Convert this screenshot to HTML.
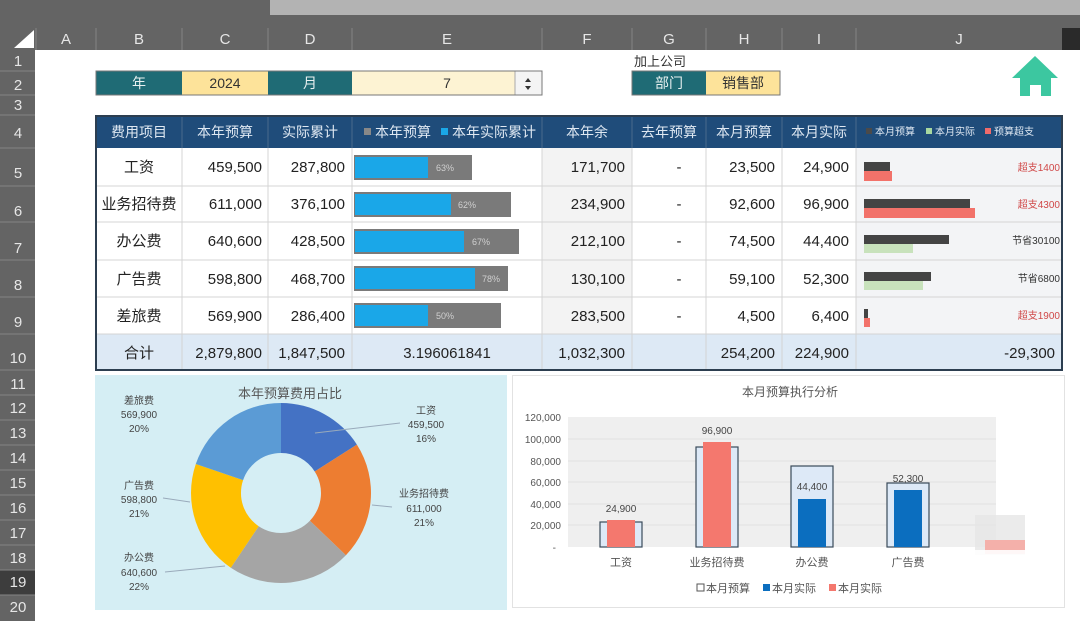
<!DOCTYPE html>
<html><head><meta charset="utf-8"><style>
html,body{margin:0;padding:0;width:1080px;height:621px;overflow:hidden;background:#fff}
svg{display:block;font-family:"Liberation Sans","Noto Sans CJK SC",sans-serif}
</style></head><body>
<svg width="1080" height="621" viewBox="0 0 1080 621" xmlns="http://www.w3.org/2000/svg">
<rect width="1080" height="621" fill="#fff"/>
<!-- top strips -->
<rect x="0" y="0" width="1080" height="50" fill="#646464"/>
<rect x="270" y="0" width="810" height="15" fill="#b3b3b3"/>
<rect x="1062" y="28" width="18" height="22" fill="#2a2a2a"/>
<polygon points="14,48 34,48 34,30" fill="#fff"/>
<g stroke="#858585" stroke-width="1">
<line x1="36" y1="28" x2="36" y2="50"/><line x1="96" y1="28" x2="96" y2="50"/><line x1="182" y1="28" x2="182" y2="50"/>
<line x1="268" y1="28" x2="268" y2="50"/><line x1="352" y1="28" x2="352" y2="50"/><line x1="542" y1="28" x2="542" y2="50"/>
<line x1="632" y1="28" x2="632" y2="50"/><line x1="706" y1="28" x2="706" y2="50"/><line x1="782" y1="28" x2="782" y2="50"/>
<line x1="856" y1="28" x2="856" y2="50"/>
</g>
<g fill="#e6e6e6" font-size="15" text-anchor="middle">
<text x="66" y="44">A</text><text x="139" y="44">B</text><text x="225" y="44">C</text><text x="310" y="44">D</text>
<text x="447" y="44">E</text><text x="587" y="44">F</text><text x="669" y="44">G</text><text x="744" y="44">H</text>
<text x="819" y="44">I</text><text x="959" y="44">J</text>
</g>
<!-- row headers -->
<rect x="0" y="50" width="35" height="571" fill="#646464"/>
<rect x="0" y="570" width="35" height="25" fill="#3d3d3d"/>
<g stroke="#858585">
<line x1="0" y1="71" x2="35" y2="71"/><line x1="0" y1="95" x2="35" y2="95"/><line x1="0" y1="115" x2="35" y2="115"/>
<line x1="0" y1="148" x2="35" y2="148"/><line x1="0" y1="186" x2="35" y2="186"/><line x1="0" y1="222" x2="35" y2="222"/>
<line x1="0" y1="260" x2="35" y2="260"/><line x1="0" y1="297" x2="35" y2="297"/><line x1="0" y1="334" x2="35" y2="334"/>
<line x1="0" y1="370" x2="35" y2="370"/><line x1="0" y1="395" x2="35" y2="395"/><line x1="0" y1="420" x2="35" y2="420"/>
<line x1="0" y1="445" x2="35" y2="445"/><line x1="0" y1="470" x2="35" y2="470"/><line x1="0" y1="495" x2="35" y2="495"/>
<line x1="0" y1="520" x2="35" y2="520"/><line x1="0" y1="545" x2="35" y2="545"/><line x1="0" y1="570" x2="35" y2="570"/>
<line x1="0" y1="595" x2="35" y2="595"/>
</g>
<g fill="#e6e6e6" font-size="15" text-anchor="middle">
<text x="18" y="66">1</text><text x="18" y="90">2</text><text x="18" y="110">3</text><text x="18" y="138">4</text>
<text x="18" y="178">5</text><text x="18" y="216">6</text><text x="18" y="253">7</text><text x="18" y="290">8</text>
<text x="18" y="327">9</text><text x="18" y="363">10</text><text x="18" y="389">11</text><text x="18" y="413">12</text>
<text x="18" y="438">13</text><text x="18" y="463">14</text><text x="18" y="488">15</text><text x="18" y="513">16</text>
<text x="18" y="538">17</text><text x="18" y="563">18</text><text x="18" y="587">19</text><text x="18" y="612">20</text>
</g>
<!-- row 2 controls -->
<rect x="96" y="71" width="86" height="24" fill="#1f6b75"/>
<rect x="182" y="71" width="86" height="24" fill="#fde39a"/>
<rect x="268" y="71" width="84" height="24" fill="#1f6b75"/>
<rect x="352" y="71" width="163" height="24" fill="#fdf3d3"/>
<rect x="515" y="71" width="27" height="24" fill="#f4f4f4" stroke="#aaa"/>
<rect x="96" y="71" width="446" height="24" fill="none" stroke="#777"/>
<polygon points="525,82 531,82 528,78" fill="#333"/><polygon points="525,86 531,86 528,90" fill="#333"/>
<g font-size="14" text-anchor="middle">
<text x="139" y="88" fill="#e8f0f0">年</text><text x="225" y="88" fill="#333">2024</text>
<text x="310" y="88" fill="#e8f0f0">月</text><text x="447" y="88" fill="#333">7</text>
</g>
<text x="634" y="66" font-size="13" fill="#333">加上公司</text>
<rect x="632" y="71" width="74" height="24" fill="#1f6b75"/>
<rect x="706" y="71" width="74" height="24" fill="#fde39a"/>
<rect x="632" y="71" width="148" height="24" fill="none" stroke="#777"/>
<text x="669" y="88" font-size="14" fill="#e8f0f0" text-anchor="middle">部门</text>
<text x="743" y="88" font-size="14" fill="#333" text-anchor="middle">销售部</text>
<!-- house -->
<polygon points="1035,56 1058,78 1051,78 1051,96 1041,96 1041,85 1030,85 1030,96 1020,96 1020,78 1012,78" fill="#3cc7a0"/>
<!-- table -->
<rect x="96" y="116" width="966" height="32" fill="#1f4c7a"/>
<rect x="542" y="148" width="90" height="186" fill="#f3f3f3"/>
<rect x="856" y="148" width="206" height="186" fill="#f3f4f6"/>
<rect x="96" y="334" width="966" height="36" fill="#dde9f5"/>
<g stroke="#d4d4d4">
<line x1="96" y1="186" x2="1062" y2="186"/><line x1="96" y1="222" x2="1062" y2="222"/><line x1="96" y1="260" x2="1062" y2="260"/>
<line x1="96" y1="297" x2="1062" y2="297"/><line x1="96" y1="334" x2="1062" y2="334"/>
<line x1="182" y1="148" x2="182" y2="370"/><line x1="268" y1="148" x2="268" y2="370"/><line x1="352" y1="148" x2="352" y2="370"/>
<line x1="542" y1="148" x2="542" y2="370"/><line x1="632" y1="148" x2="632" y2="370"/><line x1="706" y1="148" x2="706" y2="370"/>
<line x1="782" y1="148" x2="782" y2="370"/><line x1="856" y1="148" x2="856" y2="370"/>
</g>
<g stroke="#4a6a8c">
<line x1="182" y1="116" x2="182" y2="148"/><line x1="268" y1="116" x2="268" y2="148"/><line x1="352" y1="116" x2="352" y2="148"/>
<line x1="542" y1="116" x2="542" y2="148"/><line x1="632" y1="116" x2="632" y2="148"/><line x1="706" y1="116" x2="706" y2="148"/>
<line x1="782" y1="116" x2="782" y2="148"/><line x1="856" y1="116" x2="856" y2="148"/>
</g>
<rect x="96" y="116" width="966" height="254" fill="none" stroke="#2c3e50" stroke-width="2"/>
<g font-size="14" fill="#dfe8f2" text-anchor="middle">
<text x="139" y="137">费用项目</text><text x="225" y="137">本年预算</text><text x="310" y="137">实际累计</text>
<text x="587" y="137">本年余</text><text x="669" y="137">去年预算</text><text x="744" y="137">本月预算</text><text x="819" y="137">本月实际</text>
</g>
<rect x="364" y="128" width="7" height="7" fill="#888"/><text x="375" y="137" font-size="14" fill="#dfe8f2">本年预算</text>
<rect x="441" y="128" width="7" height="7" fill="#1aa7e8"/><text x="452" y="137" font-size="14" fill="#dfe8f2">本年实际累计</text>
<g font-size="10" fill="#dfe8f2">
<rect x="866" y="128" width="6" height="6" fill="#4a4a4a"/><text x="875" y="135">本月预算</text>
<rect x="926" y="128" width="6" height="6" fill="#a8d8a0"/><text x="935" y="135">本月实际</text>
<rect x="985" y="128" width="6" height="6" fill="#f06b6b"/><text x="994" y="135">预算超支</text>
</g>
<!-- body text -->
<g font-size="15" fill="#222">
<g text-anchor="middle">
<text x="139" y="172">工资</text><text x="139" y="209">业务招待费</text><text x="139" y="246">办公费</text>
<text x="139" y="284">广告费</text><text x="139" y="321">差旅费</text><text x="139" y="358">合计</text>
<text x="679" y="172">-</text><text x="679" y="209">-</text><text x="679" y="246">-</text><text x="679" y="284">-</text><text x="679" y="321">-</text>
<text x="447" y="358">3.196061841</text>
</g>
<g text-anchor="end">
<text x="262" y="172">459,500</text><text x="262" y="209">611,000</text><text x="262" y="246">640,600</text><text x="262" y="284">598,800</text><text x="262" y="321">569,900</text><text x="262" y="358">2,879,800</text>
<text x="345" y="172">287,800</text><text x="345" y="209">376,100</text><text x="345" y="246">428,500</text><text x="345" y="284">468,700</text><text x="345" y="321">286,400</text><text x="345" y="358">1,847,500</text>
<text x="625" y="172">171,700</text><text x="625" y="209">234,900</text><text x="625" y="246">212,100</text><text x="625" y="284">130,100</text><text x="625" y="321">283,500</text><text x="625" y="358">1,032,300</text>
<text x="775" y="172">23,500</text><text x="775" y="209">92,600</text><text x="775" y="246">74,500</text><text x="775" y="284">59,100</text><text x="775" y="321">4,500</text><text x="775" y="358">254,200</text>
<text x="849" y="172">24,900</text><text x="849" y="209">96,900</text><text x="849" y="246">44,400</text><text x="849" y="284">52,300</text><text x="849" y="321">6,400</text><text x="849" y="358">224,900</text>
<text x="1055" y="358">-29,300</text>
</g>
</g>
<!-- E bars -->
<g>
<rect x="354" y="155" width="118" height="25" fill="#7a7a7a"/><rect x="355" y="157" width="73" height="21" fill="#1aa7e8"/>
<rect x="354" y="192" width="157" height="25" fill="#7a7a7a"/><rect x="355" y="194" width="96" height="21" fill="#1aa7e8"/>
<rect x="354" y="229" width="165" height="25" fill="#7a7a7a"/><rect x="355" y="231" width="109" height="21" fill="#1aa7e8"/>
<rect x="354" y="266" width="154" height="25" fill="#7a7a7a"/><rect x="355" y="268" width="120" height="21" fill="#1aa7e8"/>
<rect x="354" y="303" width="147" height="25" fill="#7a7a7a"/><rect x="355" y="305" width="73" height="21" fill="#1aa7e8"/>
</g>
<g font-size="9" fill="#d0d0d0">
<text x="436" y="171">63%</text><text x="458" y="208">62%</text><text x="472" y="245">67%</text><text x="482" y="282">78%</text><text x="436" y="319">50%</text>
</g>
<!-- J bars -->
<rect x="864" y="162" width="26" height="9" fill="#444"/><rect x="864" y="171" width="28" height="10" fill="#f2726a"/>
<rect x="864" y="199" width="106" height="9" fill="#444"/><rect x="864" y="208" width="111" height="10" fill="#f2726a"/>
<rect x="864" y="235" width="85" height="9" fill="#444"/><rect x="864" y="244" width="49" height="9" fill="#c8e2bc"/>
<rect x="864" y="272" width="67" height="9" fill="#444"/><rect x="864" y="281" width="59" height="9" fill="#c8e2bc"/>
<rect x="864" y="309" width="4" height="9" fill="#444"/><rect x="864" y="318" width="6" height="9" fill="#f2726a"/>
<g font-size="10" text-anchor="end">
<text x="1060" y="171" fill="#d04848">超支1400</text><text x="1060" y="208" fill="#d04848">超支4300</text>
<text x="1060" y="244" fill="#333">节省30100</text><text x="1060" y="282" fill="#333">节省6800</text>
<text x="1060" y="319" fill="#d04848">超支1900</text>
</g>
<!-- donut panel -->
<rect x="95" y="375" width="412" height="235" fill="#d5eef4"/>
<text x="290" y="398" font-size="13" fill="#555" text-anchor="middle">本年预算费用占比</text>
<path d="M281,403 A90,90 0 0 1 356.9,444.6 L314.7,471.5 A40,40 0 0 0 281,453 Z" fill="#4472c4"/>
<path d="M356.9,444.6 A90,90 0 0 1 345.9,555.3 L309.9,520.7 A40,40 0 0 0 314.7,471.5 Z" fill="#ed7d31"/>
<path d="M345.9,555.3 A90,90 0 0 1 230.8,567.7 L258.7,526.2 A40,40 0 0 0 309.9,520.7 Z" fill="#a5a5a5"/>
<path d="M230.8,567.7 A90,90 0 0 1 195.8,464 L243.1,480.1 A40,40 0 0 0 258.7,526.2 Z" fill="#ffc000"/>
<path d="M195.8,464 A90,90 0 0 1 281,403 L281,453 A40,40 0 0 0 243.1,480.1 Z" fill="#5b9bd5"/>
<g stroke="#9ab" stroke-width="1" fill="none">
<line x1="315" y1="433" x2="400" y2="423"/><line x1="372" y1="505" x2="392" y2="507"/>
<line x1="163" y1="498" x2="190" y2="502"/><line x1="165" y1="572" x2="225" y2="566"/>
</g>
<g font-size="10" fill="#444" text-anchor="middle">
<text x="139" y="404">差旅费</text><text x="139" y="418">569,900</text><text x="139" y="432">20%</text>
<text x="426" y="414">工资</text><text x="426" y="428">459,500</text><text x="426" y="442">16%</text>
<text x="424" y="497">业务招待费</text><text x="424" y="512">611,000</text><text x="424" y="526">21%</text>
<text x="139" y="489">广告费</text><text x="139" y="503">598,800</text><text x="139" y="517">21%</text>
<text x="139" y="561">办公费</text><text x="139" y="576">640,600</text><text x="139" y="590">22%</text>
</g>
<!-- bar chart panel -->
<rect x="512.5" y="375.5" width="552" height="232" fill="#fff" stroke="#e2e2e2"/>
<text x="790" y="396" font-size="12" fill="#555" text-anchor="middle">本月预算执行分析</text>
<rect x="568" y="417" width="428" height="130" fill="#efefef"/>
<g stroke="#e2e2e2"><line x1="568" y1="439" x2="996" y2="439"/><line x1="568" y1="461" x2="996" y2="461"/><line x1="568" y1="482" x2="996" y2="482"/><line x1="568" y1="504" x2="996" y2="504"/><line x1="568" y1="525" x2="996" y2="525"/></g>
<g font-size="10" fill="#555" text-anchor="end">
<text x="561" y="421">120,000</text><text x="561" y="443">100,000</text><text x="561" y="465">80,000</text><text x="561" y="486">60,000</text>
<text x="561" y="508">40,000</text><text x="561" y="529">20,000</text><text x="556" y="551">-</text>
</g>
<g stroke="#3a4a5a" stroke-width="1.2" fill="#dde9f7">
<rect x="600" y="522" width="42" height="25"/><rect x="696" y="447" width="42" height="100"/>
<rect x="791" y="466" width="42" height="81"/><rect x="887" y="483" width="42" height="64"/>
</g>
<rect x="607" y="520" width="28" height="27" fill="#f4786e"/>
<rect x="703" y="442" width="28" height="105" fill="#f4786e"/>
<rect x="798" y="499" width="28" height="48" fill="#0b6ebf"/>
<rect x="894" y="490" width="28" height="57" fill="#0b6ebf"/>
<g font-size="10" fill="#444" text-anchor="middle">
<text x="621" y="512">24,900</text><text x="717" y="434">96,900</text><text x="812" y="490">44,400</text><text x="908" y="482">52,300</text>
</g>
<rect x="975" y="515" width="50" height="40" fill="#e6e6e6" opacity="0.8"/>
<rect x="985" y="540" width="40" height="14" fill="#f4b0aa"/>
<rect x="910" y="550" width="150" height="55" fill="#fff" opacity="0.9"/>
<g font-size="11" fill="#555" text-anchor="middle">
<text x="621" y="566">工资</text><text x="717" y="566">业务招待费</text><text x="812" y="566">办公费</text><text x="908" y="566">广告费</text>
</g>
<g font-size="11" fill="#555">
<rect x="697" y="584" width="7" height="7" fill="#fff" stroke="#555"/><text x="706" y="592">本月预算</text>
<rect x="763" y="584" width="7" height="7" fill="#0b6ebf"/><text x="772" y="592">本月实际</text>
<rect x="829" y="584" width="7" height="7" fill="#f4786e"/><text x="838" y="592">本月实际</text>
</g>
</svg>
</body></html>
